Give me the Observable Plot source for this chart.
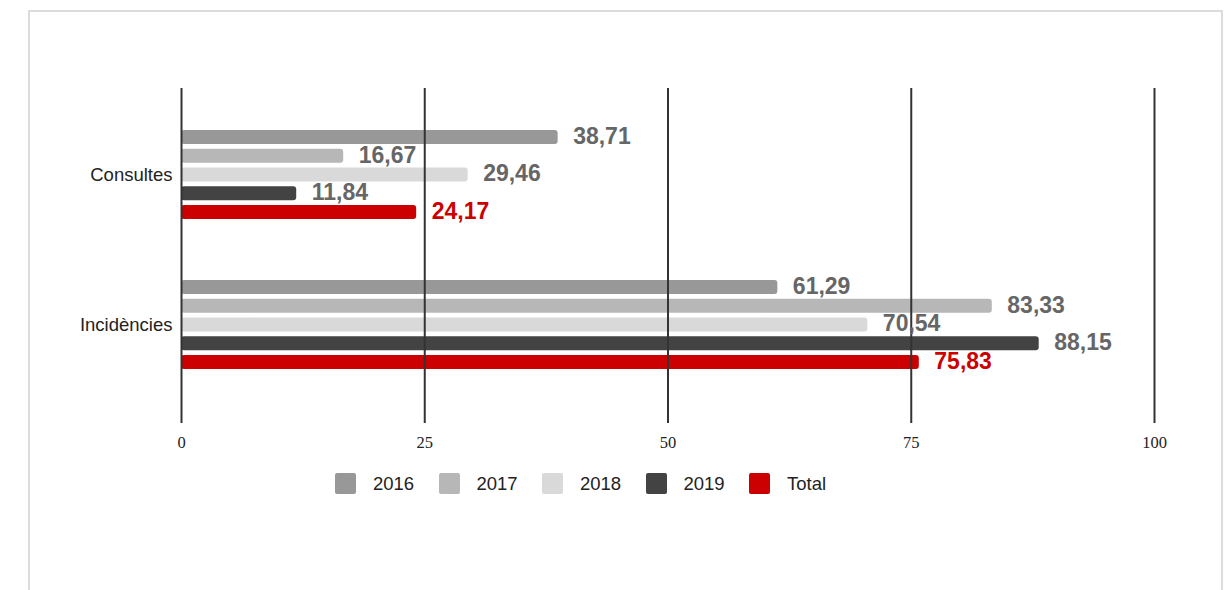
<!DOCTYPE html>
<html>
<head>
<meta charset="utf-8">
<script src="https://cdn.jsdelivr.net/npm/d3@7"></script>
<script src="https://cdn.jsdelivr.net/npm/@observablehq/plot@0.6"></script>
<style>
  html, body { margin: 0; padding: 0; background: #fff; }
  #wrap { position: relative; width: 1232px; height: 590px; overflow: hidden; }
  #frame { position: absolute; left: 28px; top: 10px; width: 1195px; height: 600px; border: 2px solid #dcdcdc; box-sizing: border-box; }
  #chart { position: absolute; left: 0; top: 0; }
  #legend { position: absolute; left: 335px; top: 473px; display: flex; font-family: "Liberation Sans", Arial, sans-serif; font-size: 18.5px; color: #222; }
  .item { display: flex; align-items: center; width: 103.5px; height: 21px; }
  .sw { width: 21px; height: 21px; border-radius: 2px; margin-right: 17px; flex: none; }
</style>
</head>
<body>
<div id="wrap">
  <div id="frame"></div>
  <div id="chart"></div>
  <div id="legend"></div>
</div>
<script>
const categories = ["Consultes", "Incidències"];
const series = ["2016", "2017", "2018", "2019", "Total"];
const consultes = [38.71, 16.67, 29.46, 11.84, 24.17];
const incidencies = [61.29, 83.33, 70.54, 88.15, 75.83];
const colors = ["#989898", "#b7b7b7", "#d9d9d9", "#434343", "#cc0000"];
const labelColors = ["#666666", "#666666", "#666666", "#666666", "#cc0000"];
const xTicks = [0, 25, 50, 75, 100];

const valuesByCategory = [consultes, incidencies];
const rows = [];
categories.forEach((c, ci) => {
  series.forEach((s, si) => {
    rows.push({category: c, series: s, key: c + "|" + s, value: valuesByCategory[ci][si], si});
  });
});
const spacers = ["·1", "·2", "·3"];
const yDomain = [
  ...series.map(s => categories[0] + "|" + s),
  ...spacers,
  ...series.map(s => categories[1] + "|" + s)
];
const catLabels = categories.map(c => ({category: c, key: c + "|" + series[2]}));
const fmt = v => v.toFixed(2).replace(".", ",");

const chart = Plot.plot({
  width: 1232,
  height: 590,
  marginTop: 88,
  marginBottom: 167,
  marginLeft: 181,
  marginRight: 78,
  style: {fontFamily: "'Liberation Sans', Arial, sans-serif", background: "transparent"},
  x: {domain: [0, 100], axis: null},
  y: {domain: yDomain, range: [127.6, 371.4], paddingInner: 0.25, paddingOuter: 0.125, round: false, axis: null},
  color: {domain: series, range: colors},
  marks: [
    Plot.barX(rows, {x: "value", y: "key", fill: "series", rx: 3}),
    Plot.gridX(xTicks, {stroke: "#333", strokeWidth: 2, strokeOpacity: 1}),
    Plot.axisX(xTicks, {label: null, tickSize: 0, tickPadding: 13, fontFamily: "'Liberation Serif', 'Times New Roman', serif", fontSize: 16.5, fill: "#222", tickFormat: d => String(d)}),
    Plot.text(rows, {x: "value", y: "key", text: d => fmt(d.value), textAnchor: "start", dx: 15, dy: -1, fontSize: 23, fontWeight: "bold", fill: d => labelColors[d.si]}),
    Plot.text(catLabels, {x: 0, y: "key", text: "category", textAnchor: "end", dx: -9, fontSize: 18.5, fill: "#222"})
  ]
});
document.getElementById("chart").appendChild(chart);

const legend = d3.select("#legend");
series.forEach((s, i) => {
  const item = legend.append("div").attr("class", "item");
  item.append("div").attr("class", "sw").style("background", colors[i]);
  item.append("span").text(s);
});
</script>
</body>
</html>
